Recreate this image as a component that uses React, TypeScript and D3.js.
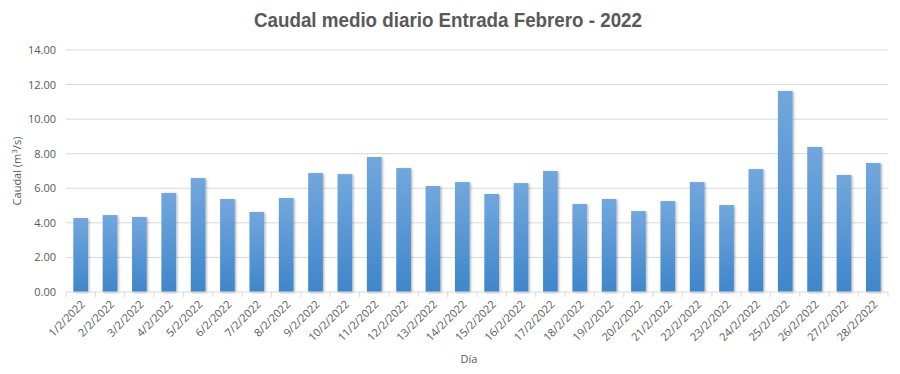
import { scaleBand, scaleLinear } from "d3";
import { FC } from "react";

const days: string[] = Array.from({ length: 28 }, (_, i) => `${i + 1}/2/2022`);
const caudal: number[] = [
  4.28, 4.45, 4.34, 5.73, 6.59, 5.38, 4.63, 5.44, 6.88, 6.82, 7.81, 7.17, 6.13, 6.36,
  5.67, 6.3, 7.0, 5.09, 5.38, 4.68, 5.26, 6.36, 5.03, 7.11, 11.63, 8.39, 6.77, 7.46,
];
const yTicks: number[] = [0, 2, 4, 6, 8, 10, 12, 14];

const W = 900;
const H = 374;
const left = 66;
const right = 888;
const top = 50;
const bottom = 292;
const txt = "#595959";
const grid = "#d9d9d9";
const font = "'Open Sans', 'Noto Sans', sans-serif";

const App: FC = () => {
  const x = scaleBand<string>().domain(days).range([left, right]).paddingInner(0.5).paddingOuter(0.25);
  const y = scaleLinear().domain([0, 14]).range([bottom, top]);
  const step = (right - left) / days.length;

  return (
    <svg width={W} height={H} style={{ display: "block", position: "absolute", left: 0, top: 0 }}>
      <defs>
        <linearGradient id="barGrad" x1="0" y1="0" x2="0" y2="1">
          <stop offset="0" stopColor="#72a7dd" />
          <stop offset="1" stopColor="#3f86cb" />
        </linearGradient>
        <filter id="shadow" x="-20%" y="-5%" width="150%" height="115%">
          <feDropShadow dx="1.2" dy="0.8" stdDeviation="0.8" floodColor="#000" floodOpacity="0.3" />
        </filter>
      </defs>
      <rect width={W} height={H} fill="#fff" />
      <text x={448} y={27} textAnchor="middle" fontFamily="'Liberation Sans', sans-serif"
        fontWeight="bold" fontSize={20} fill={txt} textLength={388} lengthAdjust="spacingAndGlyphs">
        Caudal medio diario  Entrada  Febrero - 2022
      </text>

      {/* grid + y labels */}
      {yTicks.map((t) => (
        <g key={t}>
          {t > 0 && <line x1={left} x2={right} y1={y(t)} y2={y(t)} stroke={grid} strokeWidth={1} />}
          <text x={56} y={y(t) + 4} textAnchor="end" fontFamily={font} fontSize={11} fill={txt}>
            {t.toFixed(2)}
          </text>
        </g>
      ))}

      {/* bars */}
      {caudal.map((v, i) => (
        <rect key={i} x={x(days[i])!} y={y(v)} width={x.bandwidth()} height={bottom - y(v)}
          fill="url(#barGrad)" filter="url(#shadow)" />
      ))}

      {/* x axis */}
      <line x1={left} x2={right} y1={bottom} y2={bottom} stroke={grid} strokeWidth={1} />
      {days.concat([""]).map((_, i) => (
        <line key={i} x1={left + i * step} x2={left + i * step} y1={bottom} y2={bottom + 5} stroke={grid} />
      ))}
      {days.map((d) => {
        const cx = x(d)! + x.bandwidth() / 2 + 5;
        return (
          <text key={d} transform={`translate(${cx},${bottom + 13}) rotate(-45)`} textAnchor="end"
            fontFamily={font} fontSize={11} fill={txt}>
            {d}
          </text>
        );
      })}

      <text x={469} y={363} textAnchor="middle" fontFamily={font} fontSize={11} fill={txt}>Día</text>
      <text transform={`translate(21,${(top + bottom) / 2}) rotate(-90)`} textAnchor="middle"
        fontFamily={font} fontSize={11} fill={txt}>
        Caudal (m<tspan dy={-4} fontSize={8}>3</tspan><tspan dy={4}>/s)</tspan>
      </text>
    </svg>
  );
};

export default App;
